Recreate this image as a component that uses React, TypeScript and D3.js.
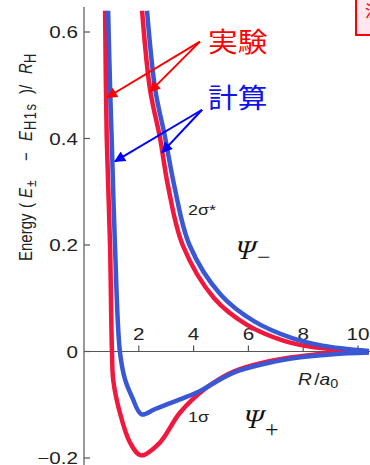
import React from 'react';
import * as d3 from 'd3';

// bonding 1σ (Ψ+) and antibonding 2σ* (Ψ−), R in a0, energy in R_H
const expBondR = [0.77, 0.83, 0.95, 1.02, 1.07, 1.31, 1.68, 2.08, 2.77, 3.5, 4.42, 5.44, 6.68, 7.9, 9.1, 10.4];
const expBondE = [0.64, 0.4, 0.2, 0, -0.055, -0.115, -0.171, -0.195, -0.171, -0.115, -0.07, -0.038, -0.019, -0.009, -0.003, -0.001];
const calcBondR = [0.88, 0.95, 1.01, 1.13, 1.31, 1.5, 1.75, 2.1, 2.6, 3.5, 4.2, 5.44, 6.68, 7.9, 9.1, 10.4];
const calcBondE = [0.64, 0.5, 0.4, 0.2, 0, -0.053, -0.085, -0.118, -0.108, -0.09, -0.075, -0.04, -0.022, -0.011, -0.005, -0.002];
const expAntiR = [2.12, 2.41, 2.77, 3.07, 3.6, 4.75, 5.95, 7.3, 8.4, 10.4];
const expAntiE = [0.64, 0.492, 0.402, 0.31, 0.2, 0.1, 0.05, 0.02, 0.008, 0.0];
const calcAntiR = [2.3, 2.6, 2.96, 3.3, 3.85, 5.0, 6.2, 7.6, 8.7, 10.4];
const calcAntiE = [0.64, 0.492, 0.402, 0.31, 0.2, 0.106, 0.057, 0.025, 0.011, 0.001];

const xTicks = [2, 4, 6, 8, 10];
const yTicks = [0.6, 0.4, 0.2, 0, -0.2];
const yTickLabels = ['0.6', '0.4', '0.2', '0', '\u22120.2'];

const RED = '#f2173d';
const BLUE = '#3a58d6';
const SANS = '"Liberation Sans", Arial, sans-serif';
const SERIF = '"Liberation Serif", "Times New Roman", serif';

const W = 370;
const H = 465;

const x = d3.scaleLinear().domain([0, 10]).range([84, 358]);
const y = d3.scaleLinear().domain([0.6, -0.2]).range([32, 458]);

const zip = (a: number[], b: number[]) => a.map((v, i) => [v, b[i]] as [number, number]);

const line = d3.line<[number, number]>()
  .x(d => x(d[0]))
  .y(d => y(d[1]))
  .curve(d3.curveCatmullRom.alpha(0.5));

// horizontally stretched text, like the scanned figure
const T = ({ px, py, sx = 1.25, children, ...rest }: any) => (
  <text transform={`translate(${px},${py}) scale(${sx},1)`} {...rest}>{children}</text>
);

const Arrow = ({ from, to, color, id }: any) => (
  <line x1={x(from[0])} y1={y(from[1])} x2={x(to[0])} y2={y(to[1])}
    stroke={color} strokeWidth={2} markerEnd={`url(#${id})`} />
);

// slanted serif Ψ with a sub/superscript sign
const Psi = ({ px, py, sign, signDy }: any) => (
  <g transform={`translate(${px},${py})`}>
    <text transform="skewX(-14)" fontSize={27} fontFamily={SERIF} fill="#111">Ψ</text>
    <text x={23} y={signDy} fontSize={24} fontFamily={SERIF} fill="#111">{sign}</text>
  </g>
);

export default function App() {
  return (
    <svg width={W} height={H} style={{ position: 'absolute', left: 0, top: 0, background: '#fff' }}>
      <defs>
        <marker id="ah-red" viewBox="0 0 10 10" refX="9" refY="5" markerWidth="7" markerHeight="5.5"
          orient="auto" markerUnits="strokeWidth">
          <path d="M0,0 L10,5 L0,10 z" fill="#ff0000" />
        </marker>
        <marker id="ah-blue" viewBox="0 0 10 10" refX="9" refY="5" markerWidth="7" markerHeight="5.5"
          orient="auto" markerUnits="strokeWidth">
          <path d="M0,0 L10,5 L0,10 z" fill="#0000ff" />
        </marker>
      </defs>

      {/* partial box in the corner */}
      <rect x={356} y={-4} width={30} height={39} fill="#ffe6ef" stroke="#ff0000" strokeWidth={2} />
      <text x={365} y={17} fontSize={16} fill="#ff0000" fontFamily='"Noto Sans CJK JP"'>注</text>

      {/* axes */}
      <line x1={x(0)} x2={x(0)} y1={7} y2={H} stroke="#555" strokeWidth={1.2} />
      <line x1={x(0)} x2={W} y1={y(0)} y2={y(0)} stroke="#555" strokeWidth={1.2} />
      {yTicks.map(t => (
        <line key={t} x1={x(0)} x2={x(0) + 6} y1={y(t)} y2={y(t)} stroke="#555" strokeWidth={1.2} />
      ))}
      {xTicks.map(t => (
        <line key={t} x1={x(t)} x2={x(t)} y1={y(0)} y2={y(0) - 6} stroke="#555" strokeWidth={1.2} />
      ))}
      {yTicks.map((t, i) => (
        <T key={t} px={78} py={y(t) + 6} textAnchor="end" fontSize={16.5} fontFamily={SANS} fill="#222">
          {yTickLabels[i]}
        </T>
      ))}
      {xTicks.map(t => (
        <T key={t} px={x(t)} py={y(0) - 12} textAnchor="middle" fontSize={16.5} fontFamily={SANS} fill="#222">
          {t}
        </T>
      ))}

      {/* y axis title */}
      <g transform="translate(32,261) rotate(-90) scale(1,1.2)">
        <text fontSize={15} fontFamily={SANS} fill="#222">
          <tspan x={0}>Energy</tspan>
          <tspan x={53}>(</tspan>
          <tspan x={63} fontStyle="italic">E</tspan>
          <tspan x={74} fontSize={12} dy={3}>±</tspan>
          <tspan x={100} dy={-3}>−</tspan>
          <tspan x={120} fontStyle="italic">E</tspan>
          <tspan x={131} fontSize={13} dy={3} letterSpacing={1.5}>H1s</tspan>
          <tspan x={167} dy={-3}>)/</tspan>
          <tspan x={187} fontStyle="italic">R</tspan>
          <tspan x={198} fontSize={13} dy={3}>H</tspan>
        </text>
      </g>

      {/* curves */}
      <path d={line(zip(expBondR, expBondE)) ?? ''} fill="none" stroke={RED} strokeWidth={4.5} />
      <path d={line(zip(expAntiR, expAntiE)) ?? ''} fill="none" stroke={RED} strokeWidth={4.5} />
      <path d={line(zip(calcBondR, calcBondE)) ?? ''} fill="none" stroke={BLUE} strokeWidth={4.5} />
      <path d={line(zip(calcAntiR, calcAntiE)) ?? ''} fill="none" stroke={BLUE} strokeWidth={4.5} />

      {/* annotations */}
      <Arrow from={[4.23, 0.582]} to={[0.84, 0.477]} color="#ff0000" id="ah-red" />
      <Arrow from={[4.23, 0.582]} to={[2.41, 0.488]} color="#ff0000" id="ah-red" />
      <Arrow from={[4.31, 0.454]} to={[1.13, 0.357]} color="#0000ff" id="ah-blue" />
      <Arrow from={[4.31, 0.454]} to={[2.85, 0.374]} color="#0000ff" id="ah-blue" />
      <T px={208} py={52} sx={1.1} fontSize={27} fill="#ff0000" fontFamily='"Noto Sans CJK JP", sans-serif'>実験</T>
      <T px={208} py={108} sx={1.1} fontSize={27} fill="#1010ee" fontFamily='"Noto Sans CJK JP", sans-serif'>計算</T>

      <T px={188} py={215} sx={1.2} fontSize={15} fontFamily={SANS} fill="#222">2σ*</T>
      <T px={188} py={422} sx={1.2} fontSize={15} fontFamily={SANS} fill="#222">1σ</T>

      <Psi px={234} py={259} sign="−" signDy={6} />
      <Psi px={242} py={428} sign="+" signDy={9} />

      <T px={298} py={385} sx={1.2} fontSize={16} fontFamily={SANS} fill="#222">
        <tspan fontStyle="italic">R</tspan>
        <tspan dx={2}>/</tspan>
        <tspan fontStyle="italic">a</tspan>
        <tspan fontSize={12} dy={3}>0</tspan>
      </T>
    </svg>
  );
}
